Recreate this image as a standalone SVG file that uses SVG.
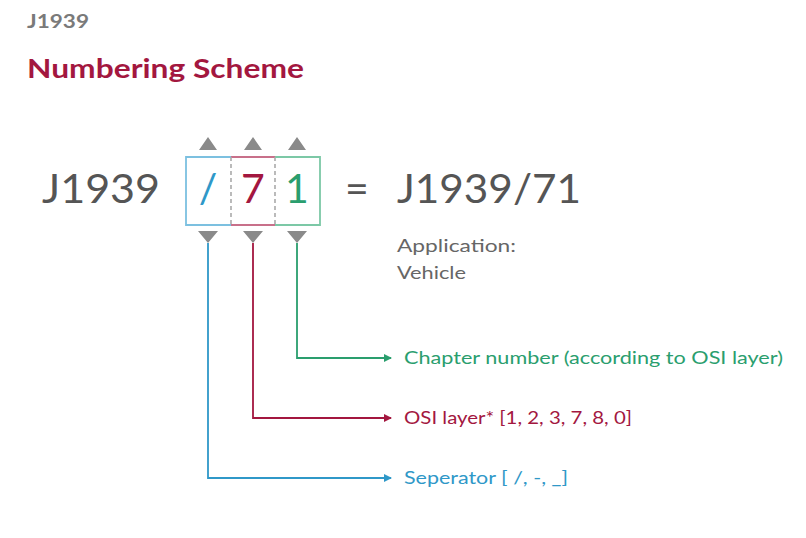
<svg xmlns="http://www.w3.org/2000/svg" width="806" height="538" viewBox="0 0 806 538">
<defs>
<style>
text{font-family:"Lato","Noto Sans","Liberation Sans",sans-serif}
.big{font-size:41px;fill:#555;font-weight:400}
.tri{fill:#8a8a8a}
.lbl{font-size:16.5px}
.conn{fill:none;stroke-width:1.8}
</style>
<marker id="aB" markerWidth="8" markerHeight="8" refX="7" refY="4" orient="auto" markerUnits="userSpaceOnUse"><path d="M0,0 L8,4 L0,8 z" fill="#2f98c8"/></marker>
<marker id="aR" markerWidth="8" markerHeight="8" refX="7" refY="4" orient="auto" markerUnits="userSpaceOnUse"><path d="M0,0 L8,4 L0,8 z" fill="#a3173f"/></marker>
<marker id="aG" markerWidth="8" markerHeight="8" refX="7" refY="4" orient="auto" markerUnits="userSpaceOnUse"><path d="M0,0 L8,4 L0,8 z" fill="#2a9e6e"/></marker>
</defs>
<rect width="806" height="538" fill="#fff"/>
<g id="header">
<text x="27" y="28" font-size="19" font-weight="700" fill="#7a7a7a" textLength="62" lengthAdjust="spacingAndGlyphs">J1939</text>
<text x="27" y="78" font-size="26" font-weight="700" fill="#a3173f" textLength="277" lengthAdjust="spacingAndGlyphs">Numbering Scheme</text>
</g>
<g id="prefix"><text class="big" x="42" y="203" textLength="118" lengthAdjust="spacingAndGlyphs">J1939</text></g>
<g id="box">
<rect x="186" y="157" width="134" height="68" fill="#fff" stroke="none"/>
<path d="M231,157 H186 V225 H231" fill="none" stroke="#7cc0e0" stroke-width="1.8"/>
<path d="M231,157 H275 M231,225 H275" fill="none" stroke="#c8708a" stroke-width="1.8"/>
<path d="M275,157 H320 V225 H275" fill="none" stroke="#7cc8a6" stroke-width="1.8"/>
<path d="M231,157 V225 M275,157 V225" stroke="#aaa" stroke-width="1.6" stroke-dasharray="4,3"/>
</g>
<g id="seg-sep"><text class="big" x="208" y="203" text-anchor="middle" style="fill:#2f98c8">/</text></g>
<g id="seg-osi"><text class="big" x="253" y="203" text-anchor="middle" style="fill:#a3173f">7</text></g>
<g id="seg-chap"><text class="big" x="297" y="203" text-anchor="middle" style="fill:#2a9e6e">1</text></g>
<g id="triangles">
<path class="tri" d="M199,150 L208,137 L217,150 z M244,150 L253,137 L262,150 z M288,150 L297,137 L306,150 z"/>
<path class="tri" d="M198,231 L208,243 L218,231 z M243,231 L253,243 L263,231 z M287,231 L297,243 L307,231 z"/>
</g>
<g id="equals"><text class="big" x="357" y="203" text-anchor="middle" font-size="34">=</text></g>
<g id="result"><text class="big" x="397" y="203" textLength="184" lengthAdjust="spacingAndGlyphs">J1939/71</text></g>
<g id="application">
<text x="397" y="252" font-size="18" fill="#666" textLength="119" lengthAdjust="spacingAndGlyphs">Application:</text>
<text x="397" y="279" font-size="18" fill="#666" textLength="69" lengthAdjust="spacingAndGlyphs">Vehicle</text>
</g>
<g id="connectors">
<path class="conn" d="M297,243 V358 H391" stroke="#2a9e6e" marker-end="url(#aG)"/>
<path class="conn" d="M253,243 V418 H391" stroke="#a3173f" marker-end="url(#aR)"/>
<path class="conn" d="M208,243 V478 H391" stroke="#2f98c8" marker-end="url(#aB)"/>
</g>
<g id="label-chap"><text class="lbl" x="404" y="364" fill="#2a9e6e" textLength="379" lengthAdjust="spacingAndGlyphs">Chapter number (according to OSI layer)</text></g>
<g id="label-osi"><text class="lbl" x="404" y="424" fill="#a3173f" textLength="228" lengthAdjust="spacingAndGlyphs">OSI layer* [1, 2, 3, 7, 8, 0]</text></g>
<g id="label-sep"><text class="lbl" x="404" y="484" fill="#2f98c8" textLength="164" lengthAdjust="spacingAndGlyphs">Seperator [ /, -, _]</text></g>
</svg>
